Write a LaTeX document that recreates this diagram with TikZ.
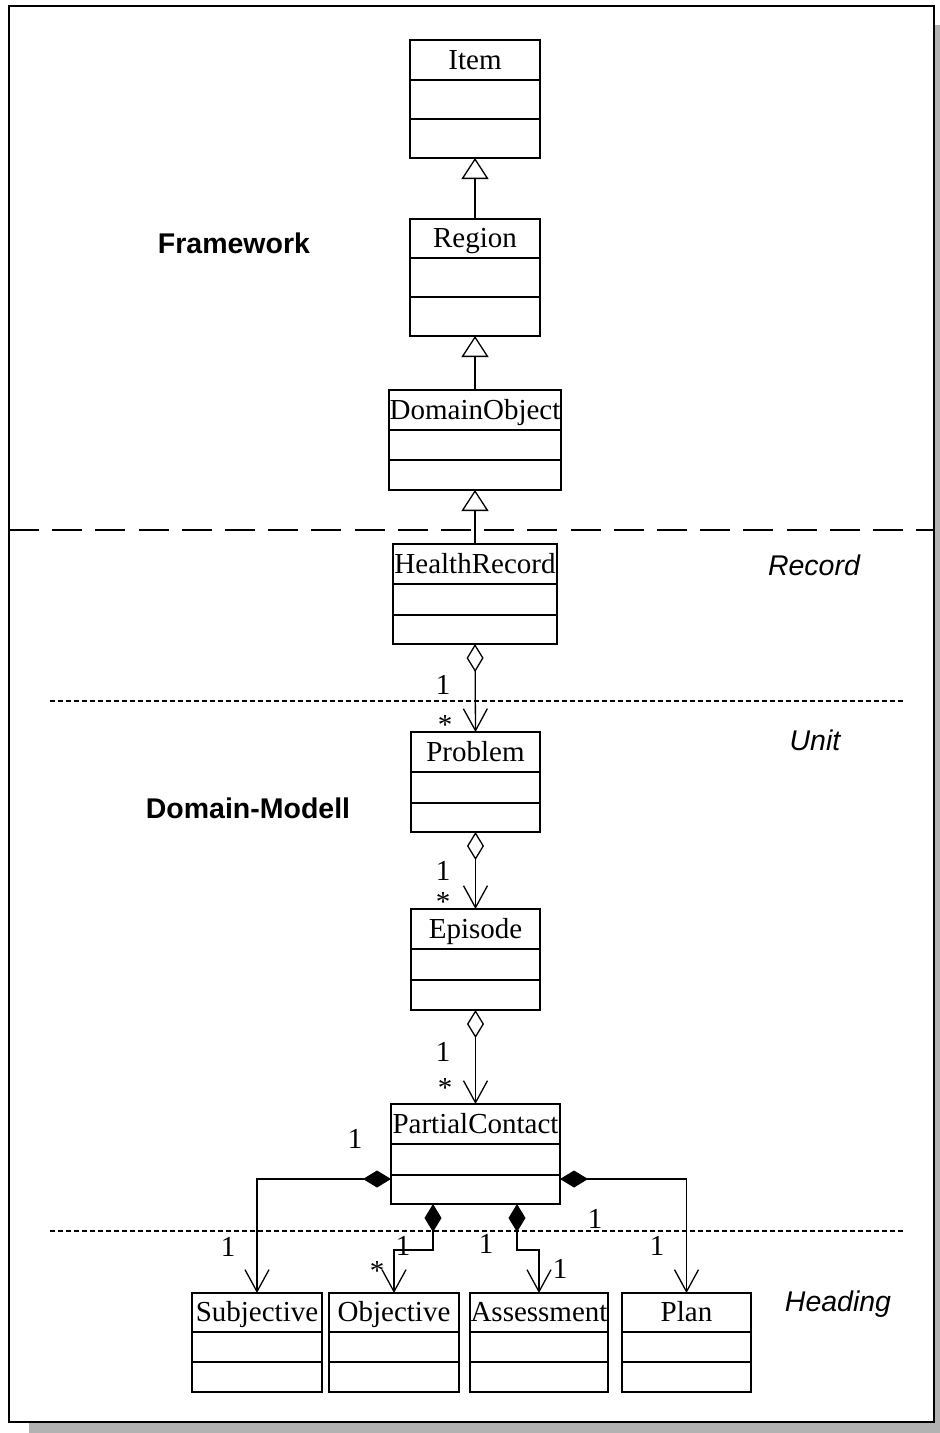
\documentclass[tikz,border=0pt]{standalone}
\usepackage{fontspec}
\setmainfont{Liberation Serif}
\newfontfamily\labelfont{Liberation Sans}
\usetikzlibrary{arrows.meta}
\definecolor{shadowgray}{HTML}{B2B2B2}
\tikzset{
  cls/.style={draw, line width=1.6pt, fill=white, inner sep=0pt, outer sep=0pt},
  sepline/.style={line width=1.6pt},
  cname/.style={font=\fontsize{29pt}{34pt}\selectfont, inner sep=0pt, anchor=base},
  mult/.style={font=\fontsize{29pt}{34pt}\selectfont, inner sep=0pt, anchor=base},
  pkg/.style={font=\labelfont\bfseries\fontsize{28.5pt}{34pt}\selectfont, inner sep=0pt, anchor=base},
  layer/.style={font=\labelfont\itshape\fontsize{28.5pt}{34pt}\selectfont, inner sep=0pt, anchor=base},
  gen/.style={line width=1.3pt, -{Triangle[fill=white,length=21pt,width=27pt]}},
  agg/.style={line width=1.3pt, {Diamond[fill=white,length=28pt,width=17pt]}-{Straight Barb[length=22pt,width=24pt]}},
  comp/.style={line width=1.3pt, {Diamond[length=28pt,width=17pt]}-{Straight Barb[length=22pt,width=24pt]}},
  tierline/.style={line width=1.3pt, dash pattern=on 5pt off 3pt},
  bigdash/.style={line width=1.6pt, dash pattern=on 30pt off 13.2pt},
}
% UML class: name, left, top, right, first divider, second divider, bottom, title
\newcommand{\umlclass}[8]{%
  \node[cls, minimum width={(#4-#2)*1pt}, minimum height={(#7-#3)*1pt}]
    (#1) at ({(#2+#4)/2},{(#3+#7)/2}) {};
  \draw[sepline] (#2,#5) -- (#4,#5);
  \draw[sepline] (#2,#6) -- (#4,#6);
  \node[cname] (#1-title) at ({(#2+#4)/2},{#5-10.5}) {#8};
}
\begin{document}
\begin{tikzpicture}[x=1pt,y=-1pt]
\useasboundingbox (0,0) rectangle (940,1433);
% sheet with drop shadow
\fill[shadowgray] (29,25) rectangle (940,1433);
\draw[line width=2pt, fill=white] (9,6) rectangle (934,1422);

% tier separators
\draw[bigdash] (9,530) -- (934,530);
\draw[tierline] (50,701) -- (903,701);
\draw[tierline] (50,1231) -- (903,1231);

% package and tier labels
\node[pkg] (framework) at (234,253) {Framework};
\node[pkg] (domainmodel) at (248,818) {Domain-Modell};
\node[layer] (record) at (814,575) {Record};
\node[layer] (unit) at (815,750) {Unit};
\node[layer] (heading) at (838,1311) {Heading};

% classes
\umlclass{item}{410}{40}{540}{80}{119}{158}{Item}
\umlclass{region}{410}{219}{540}{258}{297}{336}{Region}
\umlclass{domobj}{389}{390}{561}{430}{460}{490}{DomainObject}
\umlclass{hr}{393}{544}{557}{584}{615}{644}{HealthRecord}
\umlclass{problem}{411}{732}{540}{772}{803}{832}{Problem}
\umlclass{episode}{411}{909}{540}{949}{980}{1010}{Episode}
\umlclass{pc}{391}{1104}{560}{1144}{1175}{1204}{PartialContact}
\umlclass{subj}{192}{1293}{322}{1332}{1362}{1392}{Subjective}
\umlclass{obj}{329}{1293}{459}{1332}{1362}{1392}{Objective}
\umlclass{assess}{470}{1293}{608}{1332}{1362}{1392}{Assessment}
\umlclass{plan}{622}{1293}{751}{1332}{1362}{1392}{Plan}

% generalisations
\draw[gen] (region.north) -- (item.south);
\draw[gen] (domobj.north) -- (region.south);
\draw[gen] (hr.north) -- (domobj.south);

% aggregations
\draw[agg] (hr.south) -- (problem.north);
\draw[agg] (problem.south) -- (episode.north);
\draw[agg] (episode.south) -- (pc.north);

% compositions
\draw[comp] ([yshift=25pt]pc.south west) -| (subj.north);
\draw[comp] ([yshift=25pt]pc.south east) -| (plan.north);
\draw[comp] ([xshift=42pt]pc.south west) |- ([yshift=43pt]obj.north) -- (obj.north);
\draw[comp] ([xshift=126pt]pc.south west) |- ([yshift=43pt]assess.north) -- (assess.north);

% multiplicities
\node[mult] (m1) at (443,694) {1};
\node[mult] (m2) at (445,734) {*};
\node[mult] (m3) at (443,880) {1};
\node[mult] (m4) at (443,911) {*};
\node[mult] (m5) at (443,1061) {1};
\node[mult] (m6) at (445,1097) {*};
\node[mult] (m7) at (355,1148) {1};
\node[mult] (m8) at (228,1256) {1};
\node[mult] (m9) at (403,1255) {1};
\node[mult] (m10) at (377,1280) {*};
\node[mult] (m11) at (486,1253) {1};
\node[mult] (m12) at (560,1278) {1};
\node[mult] (m13) at (595,1228) {1};
\node[mult] (m14) at (657,1255) {1};
\end{tikzpicture}
\end{document}
